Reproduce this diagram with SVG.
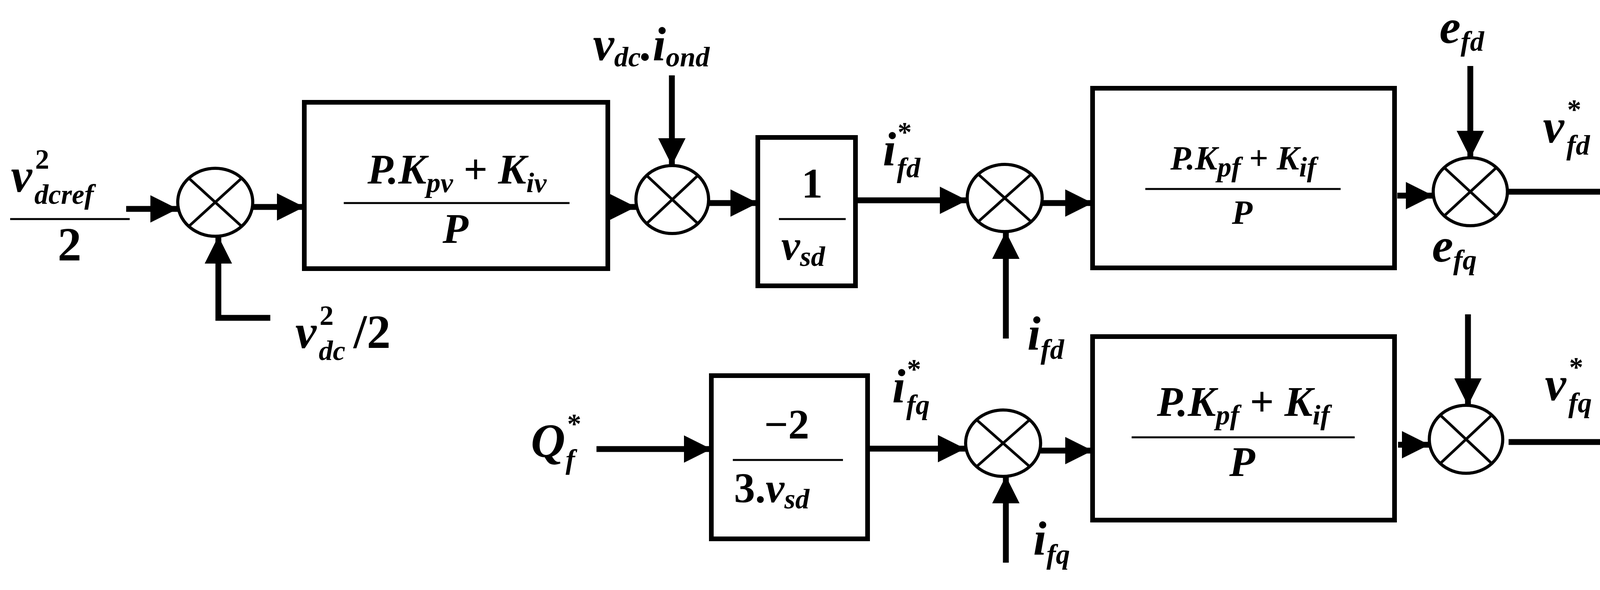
<svg xmlns="http://www.w3.org/2000/svg" width="4257" height="1511" viewBox="0 0 4257 1511">
<style>
text{font-family:"Liberation Serif",serif;font-weight:bold;font-style:italic;fill:#000}
.n{font-style:normal}
.L{font-size:122px}.M{font-size:108px}.S{font-size:86px}
.sub{font-size:72px}
.box{fill:#fff;stroke:#000;stroke-width:12}
.sum{fill:#fff;stroke:#000;stroke-width:8}
.x{stroke:#000;stroke-width:7}
.fr{stroke:#000;stroke-width:5}
.c{fill:none;stroke:#000;stroke-width:15;marker-end:url(#a)}
</style>
<defs>
<marker id="a" markerUnits="userSpaceOnUse" markerWidth="70" markerHeight="70" viewBox="0 0 70 70" refX="70" refY="35" orient="auto"><path d="M0,0L70,35L0,70z" fill="#000"/></marker>
</defs>
<g id="connectors">
<line class="c" x1="323" y1="535" x2="455" y2="535"/>
<line class="c" x1="648" y1="530" x2="779" y2="530"/>
<polyline class="c" points="692,814 559,814 559,605"/>
<line class="c" x1="1556" y1="530" x2="1628" y2="530"/>
<line class="c" x1="1720" y1="193" x2="1720" y2="424"/>
<line class="c" x1="1814" y1="520" x2="1940" y2="520"/>
<line class="c" x1="2190" y1="513" x2="2476" y2="513"/>
<line class="c" x1="2575" y1="867" x2="2575" y2="593"/>
<line class="c" x1="2669" y1="520" x2="2797" y2="520"/>
<line class="c" x1="3577" y1="501" x2="3669" y2="501"/>
<line class="c" x1="3764" y1="169" x2="3764" y2="405"/>
<line class="c" x1="3859" y1="491" x2="4225" y2="491"/>
<line class="c" x1="1527" y1="1150" x2="1821" y2="1150"/>
<line class="c" x1="2221" y1="1149" x2="2471" y2="1149"/>
<line class="c" x1="2575" y1="1441" x2="2575" y2="1219"/>
<line class="c" x1="2664" y1="1154" x2="2797" y2="1154"/>
<line class="c" x1="3579" y1="1139" x2="3659" y2="1139"/>
<line class="c" x1="3758" y1="805" x2="3758" y2="1039"/>
<line class="c" x1="3862" y1="1132" x2="4228" y2="1132"/>
</g>
<g id="in-vdcref">
<text class="L" x="28" y="491">v</text>
<text class="sub n" x="90" y="432">2</text>
<text class="sub" x="88" y="522">dcref</text>
<line class="fr" x1="26" y1="561" x2="332" y2="561"/>
<text class="L n" x="178" y="667" text-anchor="middle">2</text>
</g>
<g id="sum1"><ellipse class="sum" cx="551" cy="518" rx="96" ry="87"/><line class="x" x1="483" y1="456" x2="619" y2="580"/><line class="x" x1="483" y1="580" x2="619" y2="456"/></g>
<g id="lbl-vdc2">
<text class="L" x="756" y="891">v</text>
<text class="sub n" x="818" y="832">2</text>
<text class="sub" x="816" y="922">dc</text>
<text class="L n" x="905" y="891">/2</text>
</g>
<g id="pi-v">
<rect class="box" x="779" y="262" width="777" height="426"/>
<text class="M" x="1170" y="470" text-anchor="middle">P.K<tspan class="sub" dy="22">pv</tspan><tspan class="n" dy="-22"> + </tspan>K<tspan class="sub" dy="22">iv</tspan></text>
<line class="fr" x1="880" y1="520" x2="1458" y2="520"/>
<text class="M" x="1166" y="622" text-anchor="middle">P</text>
</g>
<g id="lbl-vdc-iond"><text class="L" x="1518" y="154">v<tspan class="sub" dy="16">dc</tspan><tspan dy="-16">.i</tspan><tspan class="sub" dy="16">ond</tspan></text></g>
<g id="sum2"><ellipse class="sum" cx="1721" cy="511" rx="93" ry="87"/><line class="x" x1="1655" y1="449" x2="1787" y2="573"/><line class="x" x1="1655" y1="573" x2="1787" y2="449"/></g>
<g id="inv-vsd">
<rect class="box" x="1940" y="352" width="250" height="380"/>
<text class="M n" x="2079" y="506" text-anchor="middle">1</text>
<line class="fr" x1="1994" y1="561" x2="2165" y2="561"/>
<text class="M" x="2000" y="665">v<tspan class="sub" dy="16">sd</tspan></text>
</g>
<g id="lbl-ifd-ref">
<text class="L" x="2260" y="423">i</text>
<text class="sub n" x="2298" y="362">*</text>
<text class="sub" x="2296" y="454">fd</text>
</g>
<g id="sum3"><ellipse class="sum" cx="2572" cy="507" rx="96" ry="86"/><line class="x" x1="2504" y1="446" x2="2640" y2="568"/><line class="x" x1="2504" y1="568" x2="2640" y2="446"/></g>
<g id="lbl-ifd"><text class="L" x="2630" y="895">i<tspan class="sub" dy="24">fd</tspan></text></g>
<g id="pi-fd">
<rect class="box" x="2797" y="226" width="773" height="460"/>
<text class="S" x="3183" y="434" text-anchor="middle">P.K<tspan class="sub" dy="18">pf</tspan><tspan class="n" dy="-18"> + </tspan>K<tspan class="sub" dy="18">if</tspan></text>
<line class="fr" x1="2932" y1="484" x2="3432" y2="484"/>
<text class="S" x="3180" y="573" text-anchor="middle">P</text>
</g>
<g id="lbl-efd"><text class="L" x="3685" y="110">e<tspan class="sub" dy="20">fd</tspan></text></g>
<g id="sum4"><ellipse class="sum" cx="3764" cy="491" rx="95" ry="87"/><line class="x" x1="3697" y1="429" x2="3831" y2="553"/><line class="x" x1="3697" y1="553" x2="3831" y2="429"/></g>
<g id="lbl-vfd">
<text class="L" x="3950" y="365">v</text>
<text class="sub n" x="4012" y="304">*</text>
<text class="sub" x="4010" y="396">fd</text>
</g>
<g id="lbl-efq"><text class="L" x="3666" y="670">e<tspan class="sub" dy="20">fq</tspan></text></g>
<g id="lbl-Q">
<text class="L" x="1359" y="1170">Q</text>
<text class="sub n" x="1452" y="1109">*</text>
<text class="sub" x="1448" y="1201">f</text>
</g>
<g id="gain-q">
<rect class="box" x="1821" y="962" width="400" height="418"/>
<text class="M n" x="2014" y="1123" text-anchor="middle">−2</text>
<line class="fr" x1="1876" y1="1178" x2="2158" y2="1178"/>
<text class="M" x="1879" y="1286"><tspan class="n">3.</tspan>v<tspan class="sub" dy="16">sd</tspan></text>
</g>
<g id="lbl-ifq-ref">
<text class="L" x="2284" y="1030">i</text>
<text class="sub n" x="2322" y="969">*</text>
<text class="sub" x="2320" y="1061">fq</text>
</g>
<g id="sum5"><ellipse class="sum" cx="2568" cy="1135" rx="96" ry="85"/><line class="x" x1="2500" y1="1075" x2="2636" y2="1195"/><line class="x" x1="2500" y1="1195" x2="2636" y2="1075"/></g>
<g id="lbl-ifq"><text class="L" x="2645" y="1420">i<tspan class="sub" dy="24">fq</tspan></text></g>
<g id="pi-fq">
<rect class="box" x="2797" y="862" width="773" height="470"/>
<text class="M" x="3183" y="1065" text-anchor="middle">P.K<tspan class="sub" dy="22">pf</tspan><tspan class="n" dy="-22"> + </tspan>K<tspan class="sub" dy="22">if</tspan></text>
<line class="fr" x1="2897" y1="1120" x2="3468" y2="1120"/>
<text class="M" x="3180" y="1219" text-anchor="middle">P</text>
</g>
<g id="sum6"><ellipse class="sum" cx="3753" cy="1125" rx="94" ry="87"/><line class="x" x1="3687" y1="1063" x2="3819" y2="1187"/><line class="x" x1="3687" y1="1187" x2="3819" y2="1063"/></g>
<g id="lbl-vfq">
<text class="L" x="3955" y="1025">v</text>
<text class="sub n" x="4017" y="964">*</text>
<text class="sub" x="4015" y="1056">fq</text>
</g>
</svg>
